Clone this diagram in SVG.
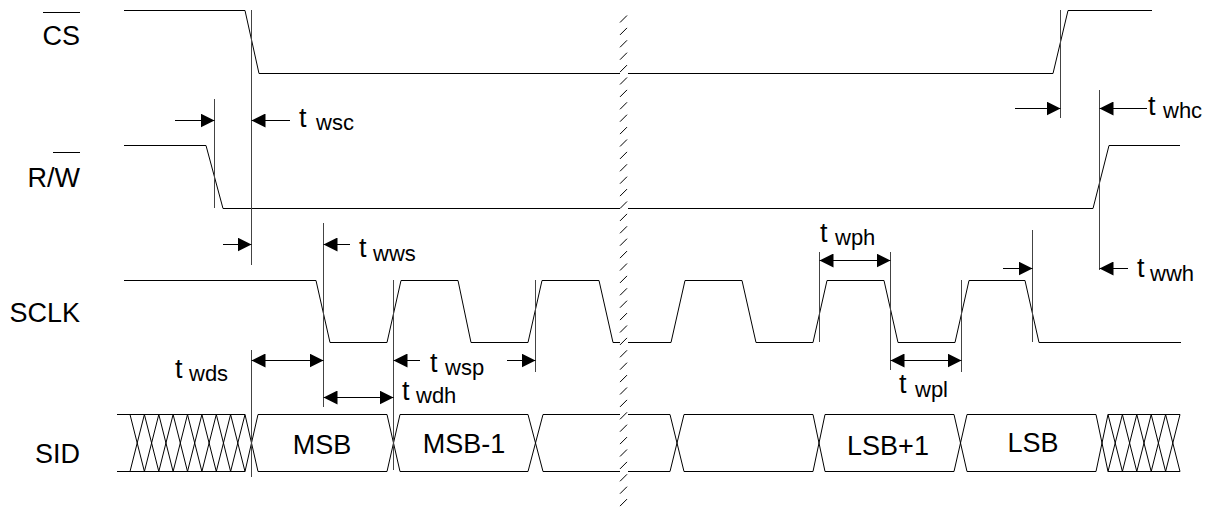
<svg xmlns="http://www.w3.org/2000/svg" width="1218" height="509" viewBox="0 0 1218 509">
<style>
.sig{fill:none;stroke:#000;stroke-width:1}
.guide{fill:none;stroke:#444;stroke-width:1}
.arr{fill:none;stroke:#000;stroke-width:1}
.one{marker-end:url(#ah)}
.two{marker-start:url(#ah);marker-end:url(#ah)}
.brk{fill:none;stroke:#000;stroke-width:1}
text{font-family:"Liberation Sans",Arial,Helvetica,sans-serif;fill:#000}
.lbl{font-size:27px;text-anchor:end}
.t{font-size:27px}
.sub{font-size:22px}
.box{font-size:27px;text-anchor:middle}
</style>
<defs>
<marker id="ah" viewBox="0 0 14 14" refX="14" refY="7" markerWidth="14" markerHeight="14" markerUnits="userSpaceOnUse" orient="auto-start-reverse">
<path d="M0,0 L14,7 L0,14 z" fill="#000"/>
</marker>
</defs>

<g id="cs">
<text class="lbl" x="80" y="45">CS</text>
<line x1="43" y1="12.5" x2="80" y2="12.5" stroke="#000" stroke-width="1"/>
<path class="sig" d="M124,10.5 H245 L259,73.5 H620 M628,73.5 H1053 L1068,10.5 H1152"/>
</g>

<g id="rw">
<text class="lbl" x="80" y="187">R/W</text>
<line x1="53" y1="152.5" x2="80" y2="152.5" stroke="#000" stroke-width="1"/>
<path class="sig" d="M124,145.5 H206 L223,208.5 H620 M628,208.5 H1093 L1109,145.5 H1180"/>
</g>

<g id="sclk">
<text class="lbl" x="80" y="322">SCLK</text>
<path class="sig" d="M124,280.5 H316 L330,342.5 H387 L401,280.5 H458 L471,342.5 H528 L542,280.5 H599 L613,342.5 H620 M628,342.5 H671 L685,280.5 H742 L756,342.5 H813 L827,280.5 H884 L898,342.5 H955 L969,280.5 H1025 L1039,342.5 H1181"/>
</g>

<g id="sid">
<text class="lbl" x="80" y="463">SID</text>
<path class="sig" d="M117,414.5 H245 M117,471.5 H245
M130,414.5 L144.4,471.5 M130,471.5 L144.4,414.5
M144.4,414.5 L158.8,471.5 M144.4,471.5 L158.8,414.5
M158.8,414.5 L173.1,471.5 M158.8,471.5 L173.1,414.5
M173.1,414.5 L187.5,471.5 M173.1,471.5 L187.5,414.5
M187.5,414.5 L201.9,471.5 M187.5,471.5 L201.9,414.5
M201.9,414.5 L216.3,471.5 M201.9,471.5 L216.3,414.5
M216.3,414.5 L230.6,471.5 M216.3,471.5 L230.6,414.5
M230.6,414.5 L245,471.5 M230.6,471.5 L245,414.5
M245,414.5 L258,471.5 M245,471.5 L258,414.5
M258,414.5 H387 M258,471.5 H387
M387,414.5 L400,471.5 M387,471.5 L400,414.5
M400,414.5 H528 M400,471.5 H528
M528,414.5 L543,471.5 M528,471.5 L543,414.5
M543,414.5 H620 M543,471.5 H620
M628,414.5 H670 M628,471.5 H670
M670,414.5 L684,471.5 M670,471.5 L684,414.5
M684,414.5 H813 M684,471.5 H813
M813,414.5 L825,471.5 M813,471.5 L825,414.5
M825,414.5 H954 M825,471.5 H954
M954,414.5 L967,471.5 M954,471.5 L967,414.5
M967,414.5 H1096 M967,471.5 H1096
M1096,414.5 L1108,471.5 M1096,471.5 L1108,414.5
M1108,414.5 H1180 M1108,471.5 H1180
M1108,414.5 L1122.4,471.5 M1108,471.5 L1122.4,414.5
M1122.4,414.5 L1136.8,471.5 M1122.4,471.5 L1136.8,414.5
M1136.8,414.5 L1151.2,471.5 M1136.8,471.5 L1151.2,414.5
M1151.2,414.5 L1165.6,471.5 M1151.2,471.5 L1165.6,414.5
M1165.6,414.5 L1180,471.5 M1165.6,471.5 L1180,414.5"/>
<text class="box" x="322" y="454">MSB</text>
<text class="box" x="464" y="453">MSB-1</text>
<text class="box" x="888" y="455">LSB+1</text>
<text class="box" x="1033" y="452">LSB</text>
</g>

<g id="break">
<path class="brk" d="M620,22.5l7,-7M620,34.9l7,-7M620,47.3l7,-7M620,59.7l7,-7M620,72.1l7,-7M620,84.5l7,-7M620,96.9l7,-7M620,109.3l7,-7M620,121.7l7,-7M620,134.1l7,-7M620,146.5l7,-7M620,158.9l7,-7M620,171.3l7,-7M620,183.7l7,-7M620,196.1l7,-7M620,208.5l7,-7M620,220.9l7,-7M620,233.3l7,-7M620,245.7l7,-7M620,258.1l7,-7M620,270.5l7,-7M620,282.9l7,-7M620,295.3l7,-7M620,307.7l7,-7M620,320.1l7,-7M620,332.5l7,-7M620,344.9l7,-7M620,357.3l7,-7M620,369.7l7,-7M620,382.1l7,-7M620,394.5l7,-7M620,406.9l7,-7M620,419.3l7,-7M620,431.7l7,-7M620,444.1l7,-7M620,456.5l7,-7M620,468.9l7,-7M620,481.3l7,-7M620,493.7l7,-7M620,506.1l7,-7"/>
</g>

<g id="connectors">
<path class="guide" d="M251.5,10 V265 M251.5,350 V477 M214.5,99 V208 M323.5,223 V407 M393.5,280 V470 M535.5,280 V372 M819.5,252 V342 M890.5,252 V370 M961.5,280 V372 M1032.5,230 V342 M1060.5,10 V118 M1099.5,90 V270"/>
<line class="arr one" x1="175" y1="120.5" x2="214.5" y2="120.5"/>
<line class="arr one" x1="290" y1="120.5" x2="251.5" y2="120.5"/>
<line class="arr one" x1="223" y1="244.5" x2="251.5" y2="244.5"/>
<line class="arr one" x1="350" y1="244.5" x2="323.5" y2="244.5"/>
<line class="arr two" x1="251.5" y1="360.5" x2="323.5" y2="360.5"/>
<line class="arr two" x1="323.5" y1="397.5" x2="393.5" y2="397.5"/>
<line class="arr one" x1="420" y1="360.5" x2="393.5" y2="360.5"/>
<line class="arr one" x1="507" y1="360.5" x2="535.5" y2="360.5"/>
<line class="arr two" x1="819.5" y1="260.5" x2="890.5" y2="260.5"/>
<line class="arr two" x1="890.5" y1="360.5" x2="961.5" y2="360.5"/>
<line class="arr one" x1="1003" y1="268.5" x2="1032.5" y2="268.5"/>
<line class="arr one" x1="1128" y1="268.5" x2="1099.5" y2="268.5"/>
<line class="arr one" x1="1015" y1="108.5" x2="1060.5" y2="108.5"/>
<line class="arr one" x1="1147" y1="108.5" x2="1099.5" y2="108.5"/>
<text class="t" x="299" y="127">t<tspan class="sub" x="316" y="130">wsc</tspan></text>
<text class="t" x="1148" y="115">t<tspan class="sub" x="1163" y="118">whc</tspan></text>
<text class="t" x="359" y="257">t<tspan class="sub" x="373" y="261">wws</tspan></text>
<text class="t" x="1137" y="277">t<tspan class="sub" x="1150" y="281">wwh</tspan></text>
<text class="t" x="820" y="242">t<tspan class="sub" x="835" y="245">wph</tspan></text>
<text class="t" x="430" y="372">t<tspan class="sub" x="445" y="375">wsp</tspan></text>
<text class="t" x="175" y="378">t<tspan class="sub" x="189" y="381">wds</tspan></text>
<text class="t" x="402" y="400">t<tspan class="sub" x="416" y="403">wdh</tspan></text>
<text class="t" x="899" y="393">t<tspan class="sub" x="915" y="397">wpl</tspan></text>
</g>
</svg>
